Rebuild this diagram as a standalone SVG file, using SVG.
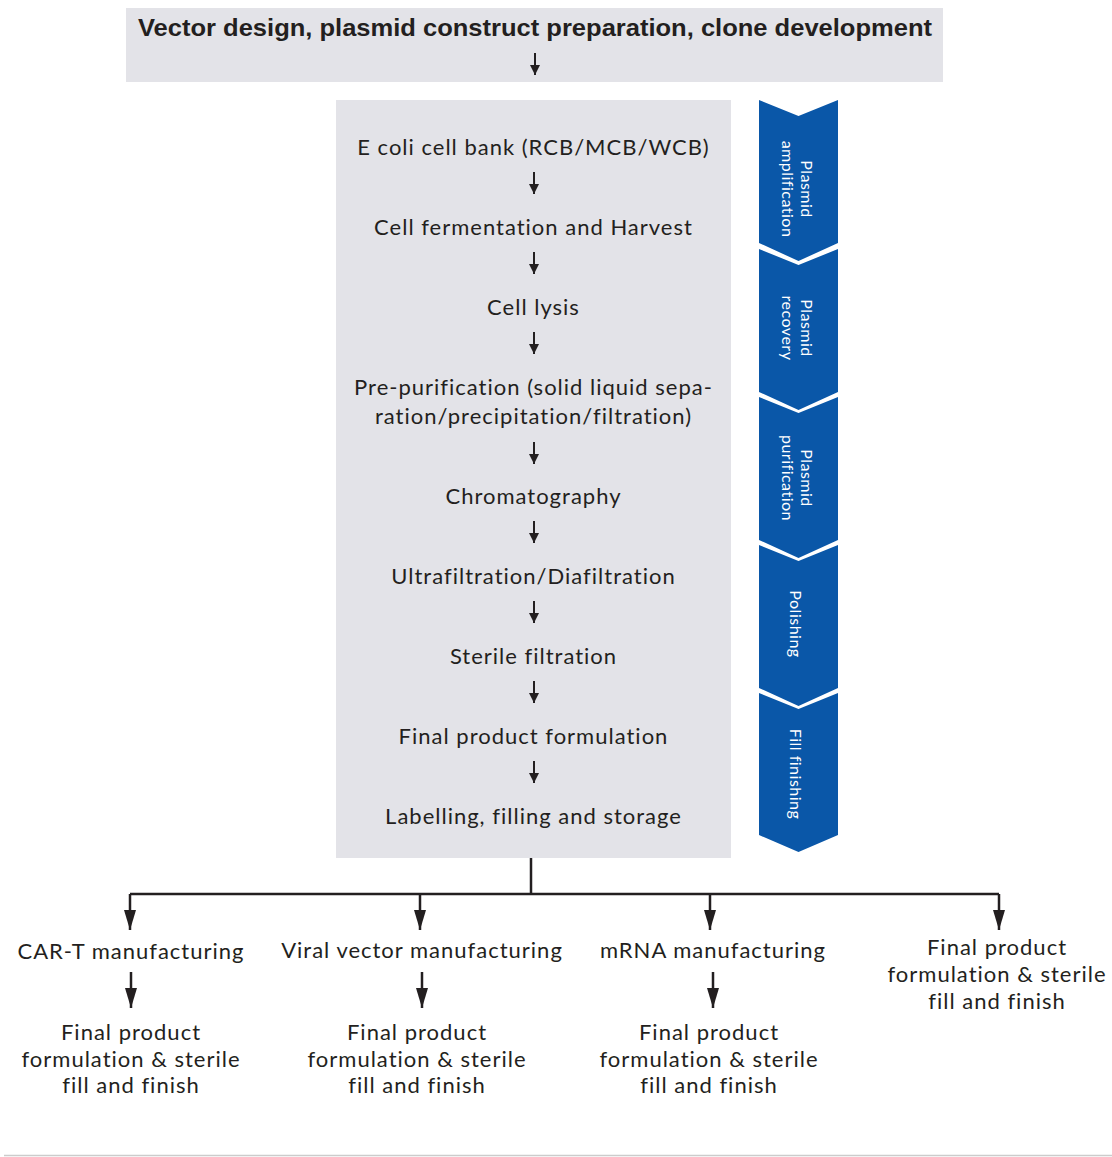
<svg xmlns="http://www.w3.org/2000/svg" width="1112" height="1157" viewBox="0 0 1112 1157">
<style>
.t{font-family:Lato,"Open Sans","Liberation Sans",sans-serif;font-size:22px;letter-spacing:1px;fill:#231f20;text-anchor:middle}
.h{font-family:"Liberation Sans",Arial,sans-serif;font-weight:bold;font-size:24px;fill:#231f20;text-anchor:middle}
.w{font-family:Lato,"Open Sans","Liberation Sans",sans-serif;font-size:16px;letter-spacing:0.5px;fill:#ffffff;text-anchor:middle}
.box{fill:#e3e3e8}
.chev{fill:#0a57a8}
.sa{stroke:#231f20;stroke-width:2;fill:none}
.ln{stroke:#231f20;stroke-width:2.5;fill:none}
</style>
<defs>
<marker id="ah" viewBox="0 0 10 10" refX="10" refY="5" markerWidth="10" markerHeight="10" markerUnits="userSpaceOnUse" orient="auto">
<path d="M0,0 L10,5 L0,10 z" fill="#231f20"/>
</marker>
<marker id="bh" viewBox="0 0 20 12" refX="20" refY="6" markerWidth="20" markerHeight="12" markerUnits="userSpaceOnUse" orient="auto">
<path d="M0,0 L20,6 L0,12 z" fill="#231f20"/>
</marker>
</defs>
<rect width="1112" height="1157" fill="#ffffff"/>
<g id="header">
<rect class="box" x="126" y="8" width="817" height="74"/>
<text class="h" x="535" y="36" textLength="794" lengthAdjust="spacingAndGlyphs">Vector design, plasmid construct preparation, clone development</text>
</g>
<g id="process">
<rect class="box" x="336" y="100" width="395" height="758"/>
<text class="t" x="533.5" y="155">E coli cell bank (RCB/MCB/WCB)</text>
<text class="t" x="533.5" y="235">Cell fermentation and Harvest</text>
<text class="t" x="533.5" y="315">Cell lysis</text>
<text class="t" x="533.5" y="395">Pre-purification (solid liquid sepa-</text>
<text class="t" x="533.5" y="424">ration/precipitation/filtration)</text>
<text class="t" x="533.5" y="504">Chromatography</text>
<text class="t" x="533.5" y="584">Ultrafiltration/Diafiltration</text>
<text class="t" x="533.5" y="664">Sterile filtration</text>
<text class="t" x="533.5" y="744">Final product formulation</text>
<text class="t" x="533.5" y="824">Labelling, filling and storage</text>
</g>
<g id="stages">
<g id="stage1">
<polygon class="chev" points="759,100 798.5,116 838,100 838,243 798.5,261 759,243"/>
<text class="w" transform="translate(801,189) rotate(90)">Plasmid<tspan x="0" dy="19">amplification</tspan></text>
</g>
<g id="stage2">
<polygon class="chev" points="759,249 798.5,265 838,249 838,392 798.5,410 759,392"/>
<text class="w" transform="translate(801,328) rotate(90)">Plasmid<tspan x="0" dy="19">recovery</tspan></text>
</g>
<g id="stage3">
<polygon class="chev" points="759,397 798.5,413 838,397 838,540 798.5,558 759,540"/>
<text class="w" transform="translate(801,478) rotate(90)">Plasmid<tspan x="0" dy="19">purification</tspan></text>
</g>
<g id="stage4">
<polygon class="chev" points="759,545 798.5,561 838,545 838,688 798.5,706 759,688"/>
<text class="w" transform="translate(790,624) rotate(90)">Polishing</text>
</g>
<g id="stage5">
<polygon class="chev" points="759,693 798.5,709 838,693 838,835 798.5,852 759,835"/>
<text class="w" transform="translate(790,774) rotate(90)">Fill finishing</text>
</g>
</g>
<g id="outputs">
<g id="cart">
<text class="t" x="131" y="959">CAR-T manufacturing</text>
<text class="t" x="131" y="1040">Final product</text>
<text class="t" x="131" y="1067">formulation &amp; sterile</text>
<text class="t" x="131" y="1093">fill and finish</text>
</g>
<g id="viral">
<text class="t" x="422" y="958">Viral vector manufacturing</text>
<text class="t" x="417" y="1040">Final product</text>
<text class="t" x="417" y="1067">formulation &amp; sterile</text>
<text class="t" x="417" y="1093">fill and finish</text>
</g>
<g id="mrna">
<text class="t" x="713" y="958">mRNA manufacturing</text>
<text class="t" x="709" y="1040">Final product</text>
<text class="t" x="709" y="1067">formulation &amp; sterile</text>
<text class="t" x="709" y="1093">fill and finish</text>
</g>
<g id="direct">
<text class="t" x="997" y="955">Final product</text>
<text class="t" x="997" y="982">formulation &amp; sterile</text>
<text class="t" x="997" y="1009">fill and finish</text>
</g>
</g>
<g id="connectors">
<line class="sa" x1="535" y1="53" x2="535" y2="75" marker-end="url(#ah)"/>
<line class="sa" x1="534" y1="172" x2="534" y2="194" marker-end="url(#ah)"/>
<line class="sa" x1="534" y1="252" x2="534" y2="274" marker-end="url(#ah)"/>
<line class="sa" x1="534" y1="332" x2="534" y2="354" marker-end="url(#ah)"/>
<line class="sa" x1="534" y1="442" x2="534" y2="464" marker-end="url(#ah)"/>
<line class="sa" x1="534" y1="521" x2="534" y2="543" marker-end="url(#ah)"/>
<line class="sa" x1="534" y1="601" x2="534" y2="623" marker-end="url(#ah)"/>
<line class="sa" x1="534" y1="681" x2="534" y2="703" marker-end="url(#ah)"/>
<line class="sa" x1="534" y1="761" x2="534" y2="783" marker-end="url(#ah)"/>
<path class="ln" d="M531,858 V894"/>
<path class="ln" d="M130,894 H999"/>
<line class="ln" x1="130" y1="894" x2="130" y2="930" marker-end="url(#bh)"/>
<line class="ln" x1="420" y1="894" x2="420" y2="930" marker-end="url(#bh)"/>
<line class="ln" x1="710" y1="894" x2="710" y2="930" marker-end="url(#bh)"/>
<line class="ln" x1="999" y1="894" x2="999" y2="930" marker-end="url(#bh)"/>
<line class="ln" x1="131" y1="972" x2="131" y2="1008" marker-end="url(#bh)"/>
<line class="ln" x1="422" y1="972" x2="422" y2="1008" marker-end="url(#bh)"/>
<line class="ln" x1="713" y1="972" x2="713" y2="1008" marker-end="url(#bh)"/>
</g>
<line x1="4" y1="1155.5" x2="1112" y2="1155.5" stroke="#cccccc" stroke-width="1.5"/>
</svg>
